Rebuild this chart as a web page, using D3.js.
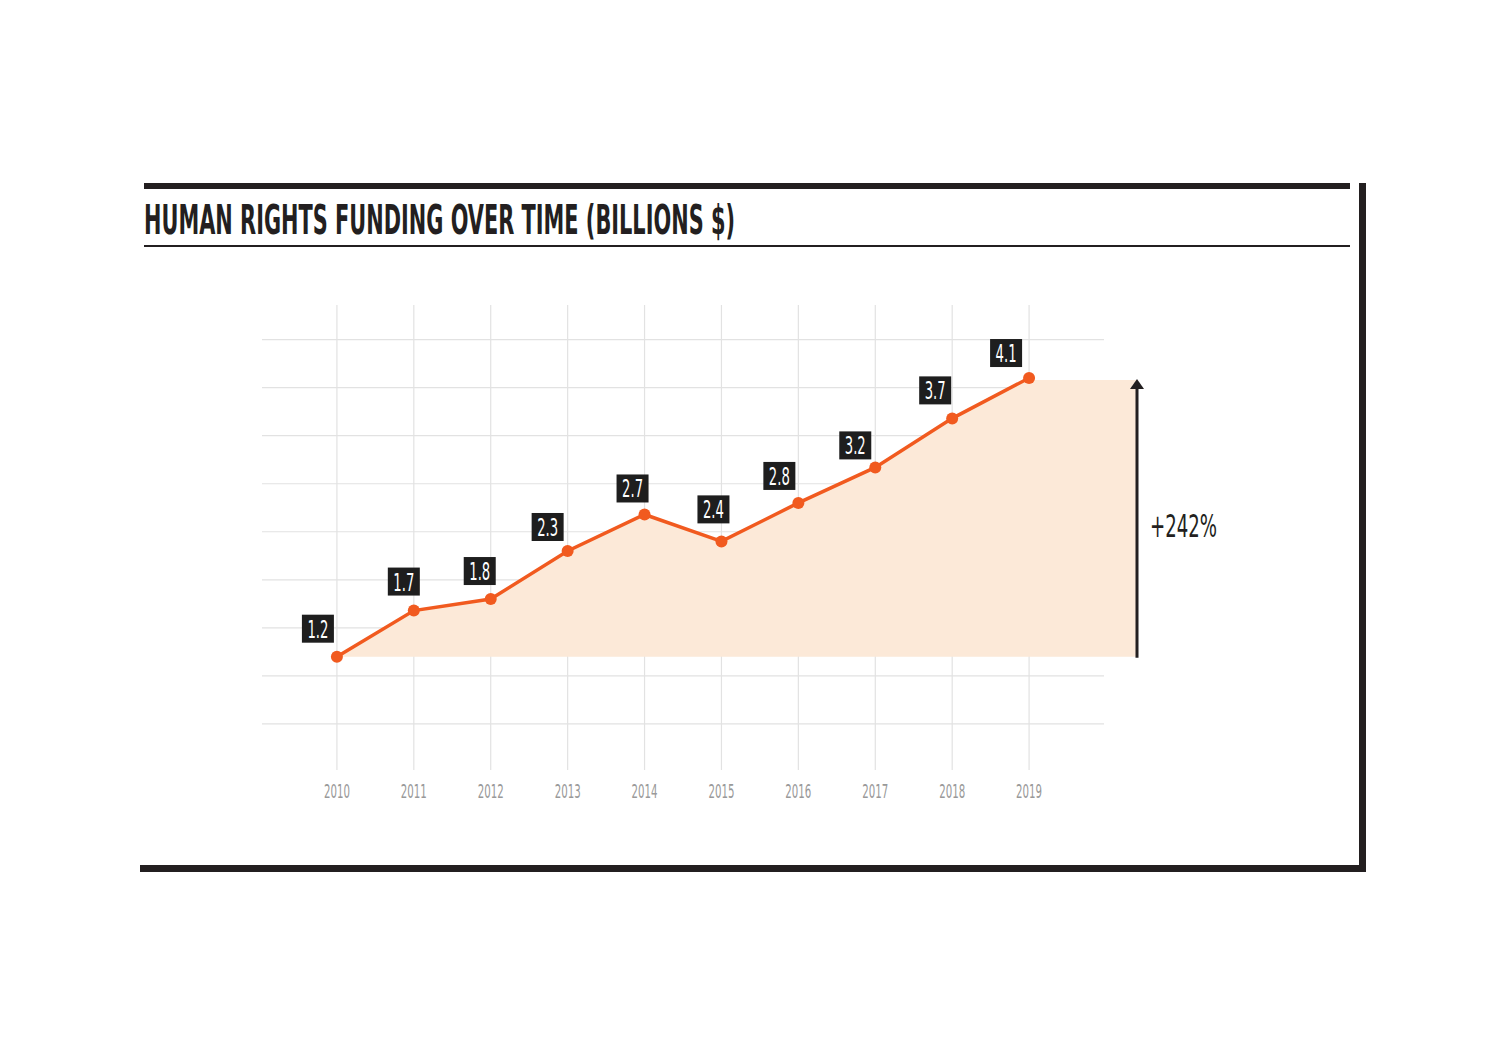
<!DOCTYPE html>
<html>
<head>
<meta charset="utf-8">
<script src="https://cdn.jsdelivr.net/npm/d3@7"></script>
<style>
  body { margin: 0; background: #fff; }
  text { font-family: "Liberation Sans Narrow", "DejaVu Sans Condensed", "Roboto", sans-serif; }
</style>
</head>
<body>
<div id="chart"></div>
<script>
const years = [2010, 2011, 2012, 2013, 2014, 2015, 2016, 2017, 2018, 2019];
const funding = [1.2, 1.68, 1.8, 2.3, 2.68, 2.4, 2.8, 3.17, 3.68, 4.1];
const gridValues = [0.5, 1, 1.5, 2, 2.5, 3, 3.5, 4, 4.5];
const title = "HUMAN RIGHTS FUNDING OVER TIME (BILLIONS $)";
const growthLabel = "+242%";
// hand nudges for the value boxes (offset of box centre from its point)
const labelNudge = [[-19, -28], [-10, -29], [-11, -28], [-20, -24], [-12, -26],
                    [-8, -32], [-19, -27], [-20, -22], [-17, -28], [-23, -25]];

const width = 1500, height = 1056;
const dark = "#231f20", orange = "#f15a1f", fill = "#fce9d8", grid = "#e2e2e2";

const svg = d3.select("#chart")
  .append("svg")
  .attr("width", width)
  .attr("height", height)
  .attr("viewBox", `0 0 ${width} ${height}`);

const x = d3.scaleLinear().domain([2009, 2020]).range([260, 1106]);
const y = d3.scaleLinear().domain([0, 4.86]).range([772, 305]);

// frame
svg.append("rect").attr("x", 144).attr("y", 183).attr("width", 1206).attr("height", 6).attr("fill", dark);
svg.append("rect").attr("x", 144).attr("y", 245).attr("width", 1206).attr("height", 2).attr("fill", dark);
svg.append("rect").attr("x", 1359).attr("y", 183).attr("width", 7).attr("height", 689).attr("fill", dark);
svg.append("rect").attr("x", 140).attr("y", 865).attr("width", 1226).attr("height", 7).attr("fill", dark);

svg.append("text")
  .attr("x", 144)
  .attr("y", 234)
  .attr("font-size", 41)
  .attr("font-weight", "bold")
  .attr("fill", dark)
  .attr("textLength", 591)
  .attr("lengthAdjust", "spacingAndGlyphs")
  .text(title);

// grid
svg.append("g")
  .selectAll("line")
  .data(gridValues)
  .join("line")
  .attr("x1", x(2009) + 2).attr("x2", x(2020) - 2)
  .attr("y1", d => y(d)).attr("y2", d => y(d))
  .attr("stroke", grid).attr("stroke-width", 1.2);

svg.append("g")
  .selectAll("line")
  .data(years)
  .join("line")
  .attr("x1", d => x(d)).attr("x2", d => x(d))
  .attr("y1", y(4.86)).attr("y2", y(0.02))
  .attr("stroke", grid).attr("stroke-width", 1.2);

// shaded growth area
const base = funding[0];
const last = funding[funding.length - 1];
const arrowX = 1137;
const areaPts = years.map((yr, i) => [x(yr), y(funding[i])]);
areaPts.push([x(2019), y(last) + 2], [arrowX, y(last) + 2], [arrowX, y(base)], [x(2010), y(base)]);
svg.append("path")
  .attr("d", d3.line()(areaPts) + "Z")
  .attr("fill", fill);

// arrow
svg.append("line")
  .attr("x1", arrowX).attr("x2", arrowX)
  .attr("y1", y(base) + 1).attr("y2", y(last) + 10)
  .attr("stroke", dark).attr("stroke-width", 3);
svg.append("path")
  .attr("d", d3.line()([[arrowX - 7, y(last) + 11], [arrowX, y(last) + 1], [arrowX + 7, y(last) + 11]]) + "Z")
  .attr("fill", dark);

svg.append("text")
  .attr("x", 1150)
  .attr("y", 537)
  .attr("font-size", 32)
  .attr("fill", dark)
  .attr("textLength", 67)
  .attr("lengthAdjust", "spacingAndGlyphs")
  .text(growthLabel);

// line + dots
svg.append("path")
  .datum(funding)
  .attr("d", d3.line().x((d, i) => x(years[i])).y(d => y(d)))
  .attr("fill", "none")
  .attr("stroke", orange)
  .attr("stroke-width", 3.5);

svg.append("g")
  .selectAll("circle")
  .data(funding)
  .join("circle")
  .attr("cx", (d, i) => x(years[i]))
  .attr("cy", d => y(d))
  .attr("r", 6)
  .attr("fill", orange);

// value labels
const labels = svg.append("g")
  .selectAll("g")
  .data(funding)
  .join("g")
  .attr("transform", (d, i) => `translate(${x(years[i]) + labelNudge[i][0]},${y(d) + labelNudge[i][1]})`);
labels.append("rect")
  .attr("x", -16).attr("y", -14)
  .attr("width", 32).attr("height", 28)
  .attr("fill", "#1e1e1e");
labels.append("text")
  .attr("text-anchor", "middle")
  .attr("y", 9)
  .attr("font-size", 25)
  .attr("fill", "#fff")
  .attr("textLength", 21)
  .attr("lengthAdjust", "spacingAndGlyphs")
  .text(d => d.toFixed(1));

// year ticks
svg.append("g")
  .selectAll("text")
  .data(years)
  .join("text")
  .attr("x", d => x(d))
  .attr("y", 798)
  .attr("text-anchor", "middle")
  .attr("font-size", 19)
  .attr("fill", "#999")
  .attr("textLength", 26)
  .attr("lengthAdjust", "spacingAndGlyphs")
  .text(d => d);
</script>
</body>
</html>
